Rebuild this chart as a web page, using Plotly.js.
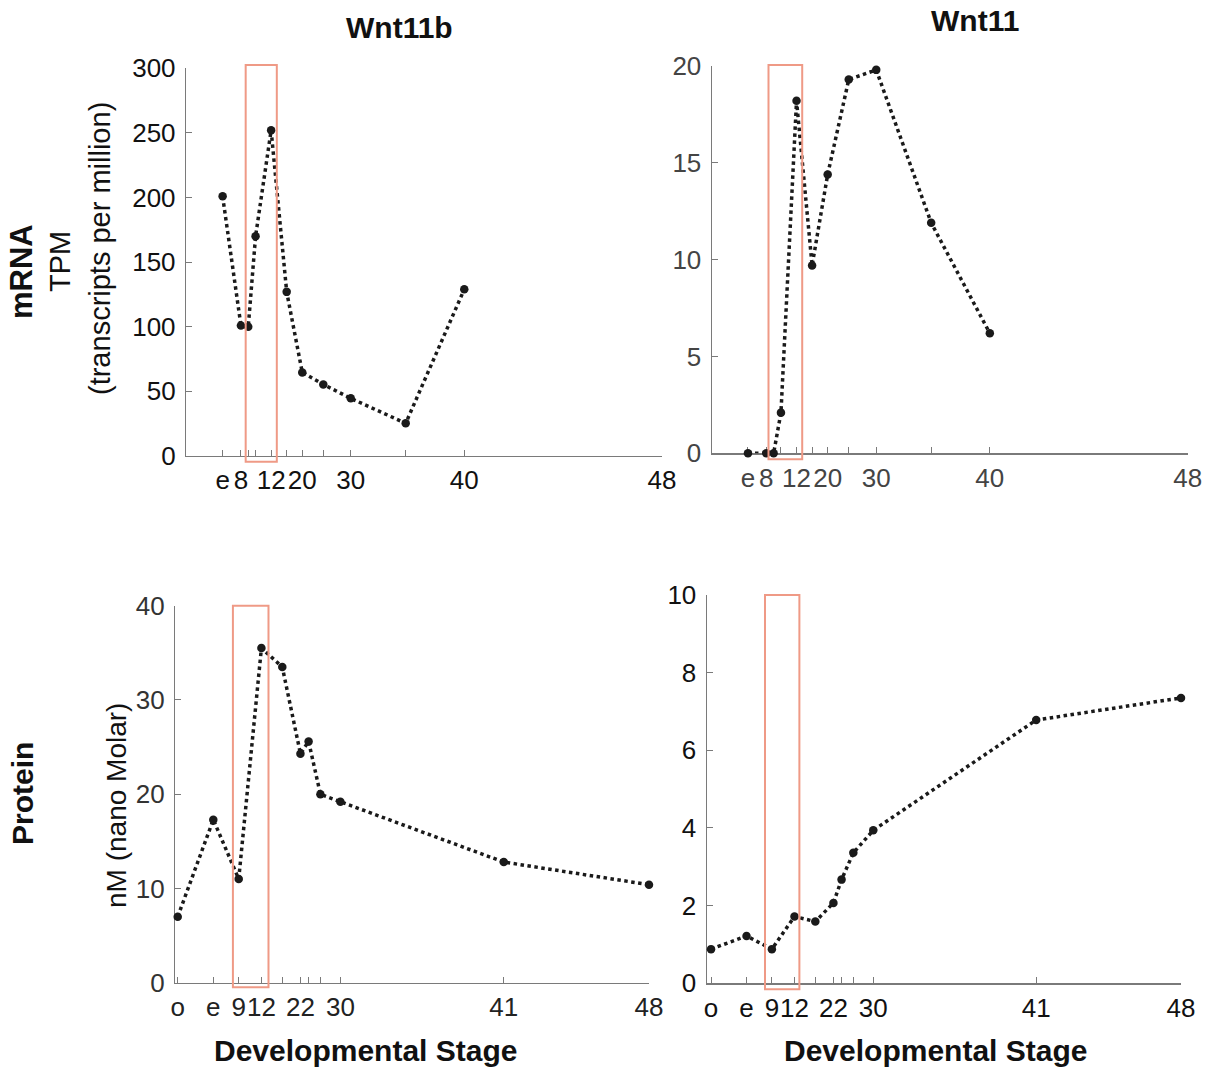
<!DOCTYPE html>
<html>
<head>
<meta charset="utf-8">
<script src="https://cdn.plot.ly/plotly-3.0.1.min.js"></script>
<style>html,body{margin:0;padding:0;background:#fff;}#chart{width:1225px;height:1070px;}</style>
</head>
<body>
<div id="chart"></div>
<script>
// ---- data (x positions are hours post fertilization of each sampled stage) ----
const mrnaStages   = ['e','8','9','10','12','15','20','25','30','35','40','48'];
const mrnaHours    = [0, 5, 7, 9, 13.25, 17.5, 21.75, 27.5, 35, 50, 66, 120];
const mrnaTickText = ['e','8','','','12','','20','','30','','40','48'];
const wnt11bTPM    = [201, 101, 100, 170, 252, 127, 64.7, 55.4, 44.6, 25.3, 129];
const wnt11TPM     = [0, 0, 0, 2.1, 18.2, 9.7, 14.4, 19.3, 19.8, 11.9, 6.2];

const protStages   = ['o','e','9','12','17','22','24','26','30','41','48'];
const protHours    = [-9.8, 0, 7, 13.25, 19, 24, 26.25, 29.5, 35, 80, 120];
const protTickText = ['o','e','9','12','','22','','','30','41','48'];
const wnt11bNM     = [7.0, 17.3, 11.0, 35.5, 33.5, 24.3, 25.6, 20.0, 19.2, 12.8, 10.4];
const wnt11NM      = [0.88, 1.22, 0.88, 1.72, 1.59, 2.07, 2.67, 3.36, 3.94, 6.78, 7.35];

// highlighted developmental window (hours) per panel
const highlightTL = [6.3, 14.8];
const highlightTR = [5.6, 14.8];
const highlightBL = [5.4, 15.2];
const highlightBR = [5.1, 14.6];

const FONT = 'Liberation Sans, Arial, Helvetica, sans-serif';
const W = 1225, H = 1070;
const TICK = 26;
const px = v => v / W;
const py = v => 1 - v / H;

function trace(x, y, xa, ya) {
  return {
    x: x, y: y, xaxis: xa, yaxis: ya, type: 'scatter', mode: 'lines+markers',
    line: {color: '#1a1a1a', width: 3.5, dash: 'dot'},
    marker: {color: '#1a1a1a', size: 8.5},
    cliponaxis: false, showlegend: false, hoverinfo: 'x+y'
  };
}

const data = [
  trace(mrnaHours.slice(0, wnt11bTPM.length), wnt11bTPM, 'x', 'y'),
  trace(mrnaHours.slice(0, wnt11TPM.length), wnt11TPM, 'x2', 'y2'),
  trace(protHours, wnt11bNM, 'x3', 'y3'),
  trace(protHours, wnt11NM, 'x4', 'y4')
];

function xax(domain, range, vals, text, anchor, color) {
  return {
    domain: domain, range: range, anchor: anchor,
    tickmode: 'array', tickvals: vals, ticktext: text, tickangle: 0,
    ticks: 'inside', ticklen: 6, tickwidth: 1, tickcolor: '#7a7a7a',
    showline: true, linecolor: '#7a7a7a', linewidth: 1.2,
    showgrid: false, zeroline: false, layer: 'below traces',
    tickfont: {family: FONT, size: TICK, color: color}, ticklabelstandoff: 1
  };
}
function yax(domain, range, dtick, anchor, color) {
  return {
    domain: domain, range: range, anchor: anchor,
    tickmode: 'linear', tick0: 0, dtick: dtick, tickangle: 0,
    ticks: 'inside', ticklen: 6, tickwidth: 1, tickcolor: '#7a7a7a',
    showline: true, linecolor: '#7a7a7a', linewidth: 1.2,
    showgrid: false, zeroline: false, layer: 'below traces',
    tickfont: {family: FONT, size: TICK, color: color}, ticklabelstandoff: 4
  };
}

function rect(xref, win, ytop, ybot) {
  return {type: 'rect', xref: xref, yref: 'paper', x0: win[0], x1: win[1],
    y0: py(ybot), y1: py(ytop), line: {color: '#ef9a86', width: 2}, fillcolor: 'rgba(0,0,0,0)', layer: 'above'};
}

function ann(text, x, y, size, bold, angle) {
  return {text: bold ? '<b>' + text + '</b>' : text, xref: 'paper', yref: 'paper',
    x: px(x), y: py(y), xanchor: 'center', yanchor: 'middle', showarrow: false,
    textangle: angle || 0, font: {family: FONT, size: size, color: '#111'}};
}

const layout = {
  width: W, height: H, margin: {l: 0, r: 0, t: 0, b: 0},
  paper_bgcolor: '#fff', plot_bgcolor: 'rgba(0,0,0,0)',
  font: {family: FONT},
  xaxis:  xax([px(186), px(662)],   [-10, 120],   mrnaHours, mrnaTickText, 'y',  '#111'),
  yaxis:  yax([py(456), py(68.3)],  [0, 300], 50, 'x',  '#111'),
  xaxis2: xax([px(711.7), px(1187.7)], [-9.9, 120], mrnaHours, mrnaTickText, 'y2', '#444'),
  yaxis2: yax([py(453.3), py(66)],  [0, 20], 5, 'x2', '#444'),
  xaxis3: xax([px(175), px(649)],   [-10.55, 120], protHours, protTickText, 'y3', '#222'),
  yaxis3: yax([py(982.7), py(605.7)], [0, 40], 10, 'x3', '#333'),
  xaxis4: xax([px(706.7), px(1181)], [-11, 120], protHours, protTickText, 'y4', '#111'),
  yaxis4: yax([py(983.3), py(595)], [0, 10], 2, 'x4', '#111'),
  shapes: [
    rect('x',  highlightTL, 65, 461.7),
    rect('x2', highlightTR, 65, 459.3),
    rect('x3', highlightBL, 605.7, 987.3),
    rect('x4', highlightBR, 595, 989.3)
  ],
  annotations: [
    ann('Wnt11b', 400, 28, 30, true),
    ann('Wnt11', 975, 20, 30, true),
    ann('mRNA', 22, 272, 31, true, -90),
    ann('TPM', 60, 262, 29, false, -90),
    ann('(transcripts per million)', 100, 248, 29, false, -90),
    ann('Protein', 22, 794, 30, true, -90),
    ann('nM (nano Molar)', 116, 806, 28, false, -90),
    ann('Developmental Stage', 366, 1050, 30, true),
    ann('Developmental Stage', 935, 1050, 30, true)
  ]
};

Plotly.newPlot('chart', data, layout, {staticPlot: true, displayModeBar: false});
</script>
</body>
</html>
